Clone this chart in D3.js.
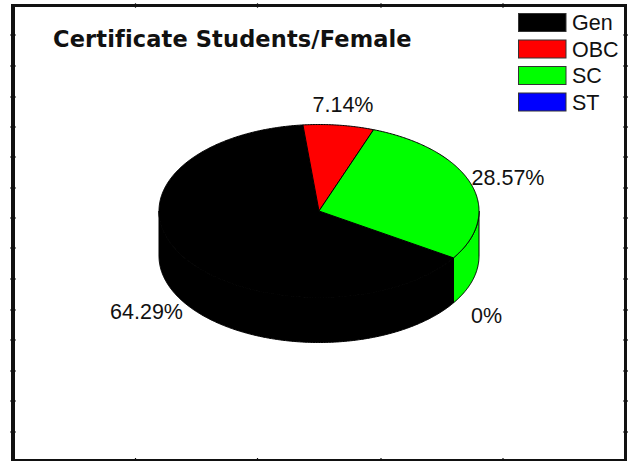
<!DOCTYPE html>
<html><head><meta charset="utf-8"><style>html,body{margin:0;background:#fff}svg{display:block}</style>
<script src="https://d3js.org/d3.v7.min.js"></script></head><body><svg id="c" width="641" height="462"></svg>
<script>
const categories = ["Gen","OBC","SC","ST"];
const shares = [64.29,7.14,28.57,0];
const labels = ["64.29%","7.14%","28.57%","0%"];
const colors = ["#000000","#ff0000","#00ff00","#0000ff"];
const labelPos = [[146.5,319],[343,112],[508,185],[486.5,323]];
const xTicks = [135.5,257.5,381,503];
const yTicks = [35,66,97,127,157,188,218,248,279,310,340,371,401,432];

const svg = d3.select("#c");
const L=13,T=5.5,R=625.5,B=460;
const F="'Liberation Sans',Arial,sans-serif";
svg.append("rect").attr("width",641).attr("height",462).attr("fill","#fff");

// pie
const cx=319,cy=211,rx=160,ry=86.5,depth=45;
const start=122.8*Math.PI/180;
const arcs=d3.pie().sort(null).startAngle(start).endAngle(start+2*Math.PI)(shares);
const pt=(a,dy=0)=>[cx+rx*Math.sin(a),cy-ry*Math.cos(a)+dy];
const seq=(a0,a1)=>{const n=Math.max(2,Math.ceil(Math.abs(a1-a0)/0.01));return d3.range(n+1).map(i=>a0+(a1-a0)*i/n);};
const line=d3.line();
// side walls (front half only)
arcs.forEach(d=>{
  const intervals=[[d.startAngle,d.endAngle],[d.startAngle-2*Math.PI,d.endAngle-2*Math.PI]];
  intervals.forEach(([s,e])=>{
    const a0=Math.max(s,Math.PI/2),a1=Math.min(e,3*Math.PI/2);
    if(a1<=a0)return;
    const top=seq(a0,a1).map(a=>pt(a));
    const bot=seq(a1,a0).map(a=>pt(a,depth));
    svg.append("path").attr("d",line(top.concat(bot))+"Z")
      .attr("fill",colors[d.index]).attr("stroke","#000").attr("stroke-width",1);
  });
});
// top faces
arcs.forEach(d=>{
  if(d.value===0)return;
  const pts=[[cx,cy]].concat(seq(d.startAngle,d.endAngle).map(a=>pt(a)));
  svg.append("path").attr("d",line(pts)+"Z")
    .attr("fill",colors[d.index]).attr("stroke","#000").attr("stroke-width",1);
});
// value labels
svg.append("g").selectAll("text").data(labels).join("text")
  .attr("x",(d,i)=>labelPos[i][0]).attr("y",(d,i)=>labelPos[i][1])
  .attr("text-anchor","middle").attr("font-family",F).attr("font-size",21.5).attr("fill","#111").text(d=>d);
// title
svg.append("text").attr("x",53).attr("y",46.5).attr("font-family","'DejaVu Sans',Verdana,sans-serif")
  .attr("font-weight","bold").attr("font-size",22.5).attr("letter-spacing",0.13).attr("fill","#111").text("Certificate Students/Female");
// legend
const legY=d3.scalePoint().domain(categories).range([13,92.5]);
const leg=svg.append("g").selectAll("g").data(categories).join("g").attr("transform",d=>`translate(518,${legY(d)})`);
leg.append("rect").attr("x",0.5).attr("y",0.5).attr("width",47.5).attr("height",18)
  .attr("fill",(d,i)=>colors[i]).attr("stroke","#333").attr("stroke-width",1);
leg.append("text").attr("x",54).attr("y",17).attr("font-family",F).attr("font-size",21.5).attr("fill","#111").text(d=>d);
// frame
const fr=svg.append("g").attr("stroke","#111").attr("fill","none");
fr.append("line").attr("x1",L).attr("x2",L).attr("y1",4).attr("y2",461).attr("stroke-width",4);
fr.append("line").attr("x1",L).attr("x2",R+1.5).attr("y1",T).attr("y2",T).attr("stroke-width",3);
fr.append("line").attr("x1",R).attr("x2",R).attr("y1",4).attr("y2",461).attr("stroke-width",3);
fr.append("line").attr("x1",L).attr("x2",R+1.5).attr("y1",B).attr("y2",B).attr("stroke-width",2);
yTicks.forEach(y=>{
  fr.append("line").attr("x1",L-2.8).attr("x2",L+2.8).attr("y1",y).attr("y2",y).attr("stroke-width",1.2);
  fr.append("line").attr("x1",R-2.3).attr("x2",R+2.5).attr("y1",y).attr("y2",y).attr("stroke-width",1.2);
});
xTicks.forEach(x=>{
  fr.append("line").attr("x1",x).attr("x2",x).attr("y1",T-2.2).attr("y2",T+2.2).attr("stroke-width",1.2);
  fr.append("line").attr("x1",x).attr("x2",x).attr("y1",B-2).attr("y2",B+1).attr("stroke-width",1.2);
});
</script></body></html>
